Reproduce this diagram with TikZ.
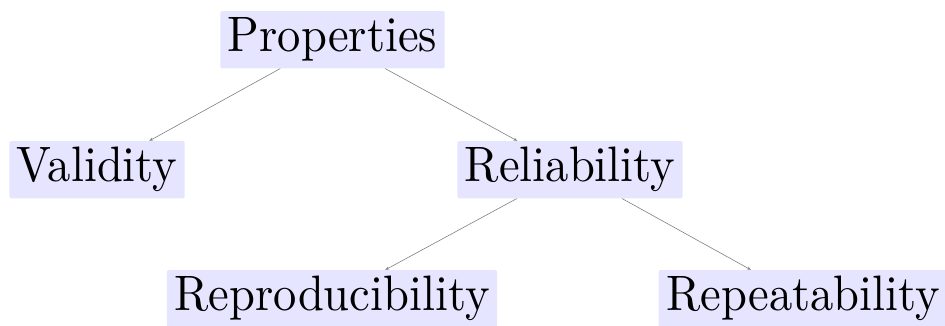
\documentclass[tikz,border=0pt]{standalone}
\usepackage{fontspec}
\setmainfont{lmroman10-regular.otf}[FakeStretch=0.935]
\usetikzlibrary{arrows.meta}
\begin{document}
\begin{tikzpicture}[x=1pt,y=-1pt,
  box/.style={fill=blue!10, rounded corners=2pt, inner xsep=7.5pt, inner ysep=0pt,
    text height=40.7pt, text depth=16.6pt, font=\fontsize{49.8}{58}\selectfont},
  link/.style={draw=gray, line width=0.6pt, -{Stealth[length=4pt,width=3pt]}}]
\useasboundingbox (0,0) rectangle (945,325);
\node[box] (p) at (332.5,39.7) {Properties};
\node[box] (v) at (97,169.7) {Validity};
\node[box] (r) at (570,169.7) {Reliability};
\node[box] (rp) at (332,298.7) {Reproducibility};
\node[box] (ra) at (803,298.7) {Repeatability};
\draw[link] (p) -- (v);
\draw[link] (p) -- (r);
\draw[link] (r) -- (rp);
\draw[link] (r) -- (ra);
\end{tikzpicture}
\end{document}
